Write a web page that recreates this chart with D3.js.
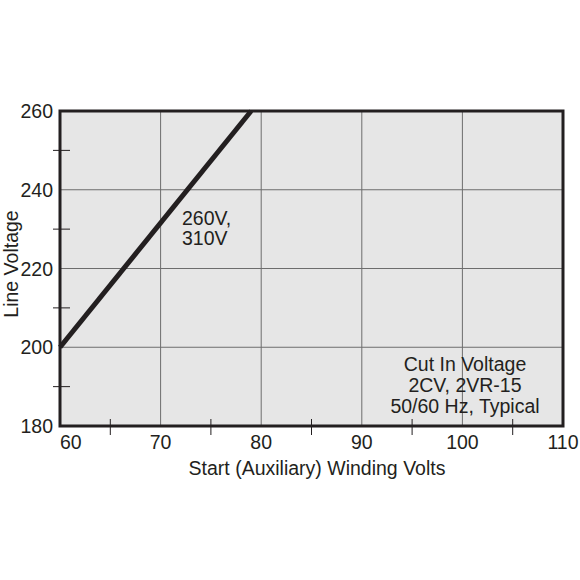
<!DOCTYPE html>
<html><head><meta charset="utf-8">
<script src="https://cdn.jsdelivr.net/npm/d3@7"></script>
<style>body{margin:0;background:#fff}svg{display:block}text{font-family:"Liberation Sans",Arial,sans-serif;fill:#231f20}</style>
</head><body><div id="c"></div>
<script>
const xTicks = [60, 70, 80, 90, 100, 110];
const yTicks = [180, 200, 220, 240, 260];
const xMinor = [65, 75, 85, 95, 105];
const yMinor = [190, 210, 230, 250];
const lineX = [60, 79];
const lineY = [200, 260];
const noteLeft = ["260V,", "310V"];
const noteRight = ["Cut In Voltage", "2CV, 2VR-15", "50/60 Hz, Typical"];

const W = 580, H = 580;
const m = {l: 60, r: 17, t: 111, b: 154};
const FS = 19.5;
const svg = d3.select("#c").append("svg").attr("width", W).attr("height", H);
const x = d3.scaleLinear().domain([60, 110]).range([m.l, W - m.r]);
const y = d3.scaleLinear().domain([180, 260]).range([H - m.b, m.t]);

svg.append("rect").attr("x", x(60)).attr("y", y(260)).attr("width", x(110) - x(60)).attr("height", y(180) - y(260)).attr("fill", "#e6e6e6");

const g = svg.append("g");
g.selectAll(".gx").data(xTicks.slice(1, -1)).join("line")
  .attr("x1", d => x(d)).attr("x2", d => x(d)).attr("y1", y(260)).attr("y2", y(180))
  .attr("stroke", "#6d6d6d").attr("stroke-width", 1);
g.selectAll(".gy").data(yTicks.slice(1, -1)).join("line")
  .attr("y1", d => y(d)).attr("y2", d => y(d)).attr("x1", x(60)).attr("x2", x(110))
  .attr("stroke", "#6d6d6d").attr("stroke-width", 1);

// minor ticks crossing axes
g.selectAll(".mx").data(xMinor).join("line")
  .attr("x1", d => x(d)).attr("x2", d => x(d)).attr("y1", y(180) - 7).attr("y2", y(180) + 9)
  .attr("stroke", "#231f20").attr("stroke-width", 1);
g.selectAll(".my").data(yMinor).join("line")
  .attr("y1", d => y(d)).attr("y2", d => y(d)).attr("x1", x(60) - 7).attr("x2", x(60) + 10)
  .attr("stroke", "#231f20").attr("stroke-width", 1);

// frame
svg.append("rect").attr("x", x(60)).attr("y", y(260)).attr("width", x(110) - x(60)).attr("height", y(180) - y(260))
  .attr("fill", "none").attr("stroke", "#231f20").attr("stroke-width", 3);

// data line
svg.append("path").datum(lineX.map((v, i) => [v, lineY[i]]))
  .attr("d", d3.line().x(d => x(d[0])).y(d => y(d[1])))
  .attr("stroke", "#231f20").attr("stroke-width", 5).attr("fill", "none");

// tick labels
svg.selectAll(".xl").data(xTicks).join("text")
  .attr("x", d => x(d)).attr("y", 449)
  .attr("text-anchor", d => d === 60 ? "start" : "middle")
  .attr("font-size", FS).text(d => d);
svg.selectAll(".yl").data(yTicks).join("text")
  .attr("x", 53).attr("y", d => y(d) + 7)
  .attr("text-anchor", "end").attr("font-size", FS).text(d => d);

// axis titles
svg.append("text").attr("x", 317).attr("y", 475).attr("text-anchor", "middle").attr("font-size", FS)
  .text("Start (Auxiliary) Winding Volts");
svg.append("text").attr("transform", `translate(18,264) rotate(-90)`)
  .attr("text-anchor", "middle").attr("font-size", FS).text("Line Voltage");

// notes
svg.selectAll(".nl").data(noteLeft).join("text")
  .attr("x", 182).attr("y", (d, i) => 225 + i * 20).attr("font-size", FS).text(d => d);
svg.selectAll(".nr").data(noteRight).join("text")
  .attr("x", 465).attr("y", (d, i) => 371 + i * 21).attr("text-anchor", "middle").attr("font-size", FS).text(d => d);
</script></body></html>
